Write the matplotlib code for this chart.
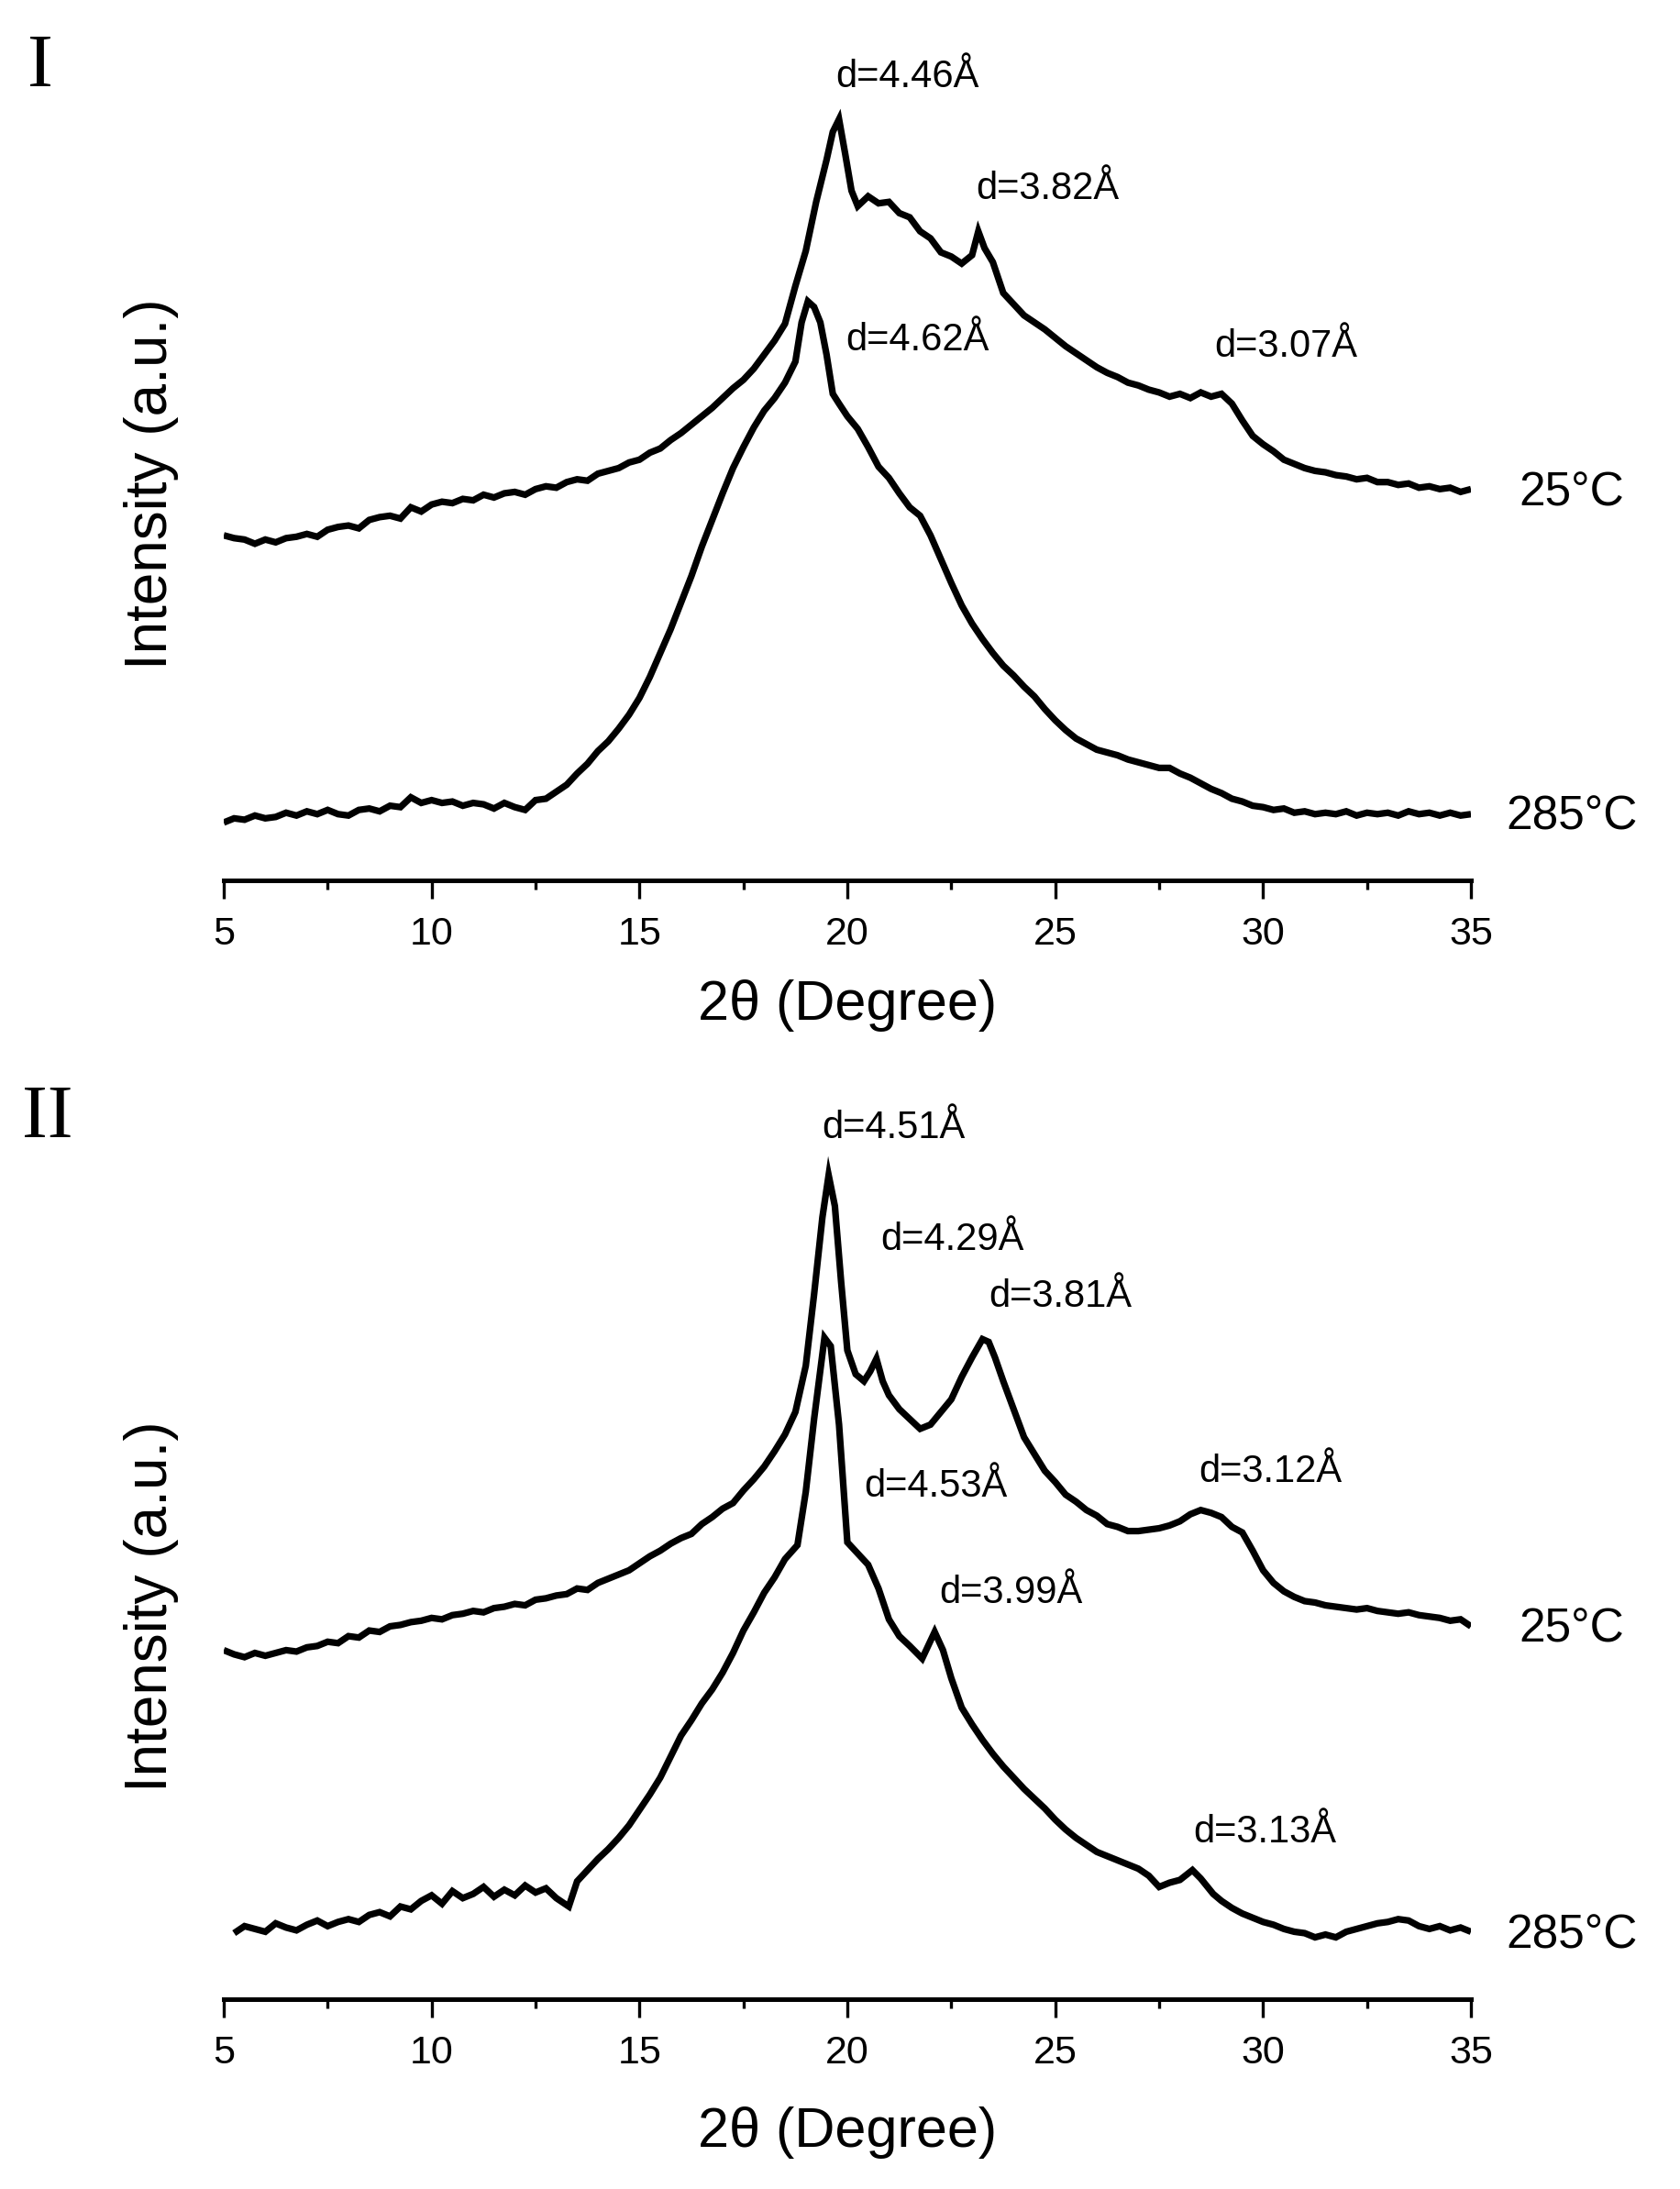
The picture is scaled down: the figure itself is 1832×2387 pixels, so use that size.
import numpy as np
import matplotlib
matplotlib.use("Agg")
import matplotlib.pyplot as plt
from matplotlib.ticker import MultipleLocator

plt.rcParams['font.family'] = ['Liberation Sans', 'DejaVu Sans']

# ---------------- Data (arbitrary intensity units) ----------------
# Panel I, 25 C
x_I_25 = [5.00, 5.25, 5.50, 5.75, 6.00, 6.25, 6.50, 6.75, 7.00, 7.25, 7.50, 7.75, 8.00, 8.25, 8.50, 8.75,
          9.00, 9.25, 9.50, 9.75, 10.00, 10.25, 10.50, 10.75, 11.00, 11.25, 11.50, 11.75, 12.00, 12.25,
          12.50, 12.75, 13.00, 13.25, 13.50, 13.75, 14.00, 14.25, 14.50, 14.75, 15.00, 15.25, 15.50,
          15.75, 16.00, 16.25, 16.50, 16.75, 17.00, 17.25, 17.50, 17.75, 18.00, 18.25, 18.50, 18.75,
          19.00, 19.25, 19.50, 19.65, 19.80, 19.95, 20.10, 20.25, 20.50, 20.75, 21.00, 21.25, 21.50,
          21.75, 22.00, 22.25, 22.50, 22.75, 23.00, 23.15, 23.30, 23.50, 23.75, 24.00, 24.25, 24.50,
          24.75, 25.00, 25.25, 25.50, 25.75, 26.00, 26.25, 26.50, 26.75, 27.00, 27.25, 27.50, 27.75,
          28.00, 28.25, 28.50, 28.75, 29.00, 29.25, 29.50, 29.75, 30.00, 30.25, 30.50, 30.75, 31.00,
          31.25, 31.50, 31.75, 32.00, 32.25, 32.50, 32.75, 33.00, 33.25, 33.50, 33.75, 34.00, 34.25,
          34.50, 34.75, 35.00]
y_I_25 = [246, 244, 243, 240, 243, 241, 244, 245, 247, 245, 250, 252, 253, 251, 257, 259,
          260, 258, 266, 263, 268, 270, 269, 272, 271, 275, 273, 276, 277, 275,
          279, 281, 280, 284, 286, 285, 290, 292, 294, 298, 300, 305, 308,
          314, 319, 325, 331, 337, 344, 351, 357, 365, 375, 385, 397, 424,
          449, 484, 514, 534, 543, 518, 492, 481, 488, 483, 484, 476, 473,
          463, 458, 448, 445, 440, 446, 463, 451, 441, 419, 411, 403, 398,
          393, 387, 381, 376, 371, 366, 362, 359, 355, 353, 350, 348, 345,
          347, 344, 348, 345, 347, 340, 328, 317, 311, 306, 300, 297, 294,
          292, 291, 289, 288, 286, 287, 284, 284, 282, 283, 280, 281, 279,
          280, 277, 279]

# Panel I, 285 C
x_I_285 = [5.00, 5.25, 5.50, 5.75, 6.00, 6.25, 6.50, 6.75, 7.00, 7.25, 7.50, 7.75, 8.00, 8.25, 8.50, 8.75,
           9.00, 9.25, 9.50, 9.75, 10.00, 10.25, 10.50, 10.75, 11.00, 11.25, 11.50, 11.75, 12.00, 12.25,
           12.50, 12.75, 13.00, 13.25, 13.50, 13.75, 14.00, 14.25, 14.50, 14.75, 15.00, 15.25, 15.50,
           15.75, 16.00, 16.25, 16.50, 16.75, 17.00, 17.25, 17.50, 17.75, 18.00, 18.25, 18.50, 18.75,
           18.90, 19.05, 19.20, 19.35, 19.50, 19.65, 19.80, 20.00, 20.25, 20.50, 20.75, 21.00, 21.25,
           21.50, 21.75, 22.00, 22.25, 22.50, 22.75, 23.00, 23.25, 23.50, 23.75, 24.00, 24.25, 24.50,
           24.75, 25.00, 25.25, 25.50, 25.75, 26.00, 26.25, 26.50, 26.75, 27.00, 27.25, 27.50, 27.75,
           28.00, 28.25, 28.50, 28.75, 29.00, 29.25, 29.50, 29.75, 30.00, 30.25, 30.50, 30.75, 31.00,
           31.25, 31.50, 31.75, 32.00, 32.25, 32.50, 32.75, 33.00, 33.25, 33.50, 33.75, 34.00, 34.25,
           34.50, 34.75, 35.00]
y_I_285 = [41, 44, 43, 46, 44, 45, 48, 46, 49, 47, 50, 47, 46, 50, 51, 49,
           53, 52, 59, 55, 57, 55, 56, 53, 55, 54, 51, 55, 52, 50,
           57, 58, 63, 68, 76, 83, 92, 99, 108, 118, 130, 145, 162,
           179, 198, 217, 238, 257, 276, 294, 309, 323, 335, 344, 355, 370,
           398, 413, 409, 398, 375, 347, 340, 331, 322, 309, 295, 287, 276,
           266, 260, 246, 229, 212, 196, 183, 172, 162, 153, 146, 138, 131,
           122, 114, 107, 101, 97, 93, 91, 89, 86, 84, 82, 80, 80,
           76, 73, 69, 65, 62, 58, 56, 53, 52, 50, 51, 48, 49,
           47, 48, 47, 49, 46, 48, 47, 48, 46, 49, 47, 48, 46,
           48, 46, 47]

# Panel II, 25 C
x_II_25 = [5.00, 5.25, 5.50, 5.75, 6.00, 6.25, 6.50, 6.75, 7.00, 7.25, 7.50, 7.75, 8.00, 8.25, 8.50, 8.75,
           9.00, 9.25, 9.50, 9.75, 10.00, 10.25, 10.50, 10.75, 11.00, 11.25, 11.50, 11.75, 12.00, 12.25,
           12.50, 12.75, 13.00, 13.25, 13.50, 13.75, 14.00, 14.25, 14.50, 14.75, 15.00, 15.25, 15.50,
           15.75, 16.00, 16.25, 16.50, 16.75, 17.00, 17.25, 17.50, 17.75, 18.00, 18.25, 18.50, 18.75,
           19.00, 19.20, 19.40, 19.55, 19.70, 19.85, 20.00, 20.20, 20.40, 20.55, 20.70, 20.85, 21.00,
           21.25, 21.50, 21.75, 22.00, 22.25, 22.50, 22.75, 23.00, 23.25, 23.40, 23.55, 23.75, 24.00,
           24.25, 24.50, 24.75, 25.00, 25.25, 25.50, 25.75, 26.00, 26.25, 26.50, 26.75, 27.00, 27.25,
           27.50, 27.75, 28.00, 28.25, 28.50, 28.75, 29.00, 29.25, 29.50, 29.75, 30.00, 30.25, 30.50,
           30.75, 31.00, 31.25, 31.50, 31.75, 32.00, 32.25, 32.50, 32.75, 33.00, 33.25, 33.50, 33.75,
           34.00, 34.25, 34.50, 34.75, 35.00]
y_II_25 = [249, 246, 244, 247, 245, 247, 249, 248, 251, 252, 255, 254, 259, 258, 263, 262,
           266, 267, 269, 270, 272, 271, 274, 275, 277, 276, 279, 280, 282, 281,
           285, 286, 288, 289, 293, 292, 297, 300, 303, 306, 311, 316, 320,
           325, 329, 332, 339, 344, 350, 354, 363, 371, 380, 391, 403, 419,
           452, 503, 558, 588, 566, 512, 463, 446, 441, 448, 457, 441, 431,
           421, 414, 407, 410, 419, 428, 444, 458, 471, 469, 458, 441, 421,
           401, 389, 377, 369, 360, 355, 349, 345, 339, 337, 334, 334, 335,
           336, 338, 341, 346, 349, 347, 344, 337, 333, 320, 306, 297, 291,
           287, 284, 283, 281, 280, 279, 278, 279, 277, 276, 275, 276, 274,
           273, 272, 270, 271, 266]

# Panel II, 285 C
x_II_285 = [5.25, 5.50, 5.75, 6.00, 6.25, 6.50, 6.75, 7.00, 7.25, 7.50, 7.75, 8.00, 8.25, 8.50, 8.75,
            9.00, 9.25, 9.50, 9.75, 10.00, 10.25, 10.50, 10.75, 11.00, 11.25, 11.50, 11.75, 12.00, 12.25,
            12.50, 12.75, 13.00, 13.30, 13.50, 13.75, 14.00, 14.25, 14.50, 14.75, 15.00, 15.25, 15.50,
            15.80, 16.00, 16.25, 16.50, 16.75, 17.00, 17.25, 17.50, 17.75, 18.00, 18.25, 18.50, 18.80,
            19.00, 19.20, 19.45, 19.60, 19.80, 20.00, 20.25, 20.50, 20.75, 21.00, 21.25, 21.50, 21.80,
            22.10, 22.30, 22.50, 22.75, 23.00, 23.25, 23.50, 23.75, 24.00, 24.25, 24.50, 24.75, 25.00,
            25.25, 25.50, 25.75, 26.00, 26.25, 26.50, 26.75, 27.00, 27.25, 27.50, 27.75, 28.00, 28.30,
            28.50, 28.80, 29.00, 29.25, 29.50, 29.75, 30.00, 30.25, 30.50, 30.75, 31.00, 31.25, 31.50,
            31.75, 32.00, 32.25, 32.50, 32.75, 33.00, 33.25, 33.50, 33.75, 34.00, 34.25, 34.50, 34.75,
            35.00]
y_II_285 = [47, 52, 50, 48, 54, 51, 49, 53, 56, 52, 55, 57, 55, 60, 62,
            59, 66, 64, 70, 74, 68, 77, 72, 75, 80, 73, 78, 74, 81,
            76, 79, 72, 66, 84, 92, 100, 107, 115, 124, 135, 146, 158,
            176, 188, 199, 211, 221, 233, 247, 263, 276, 290, 301, 314, 324,
            362, 414, 472, 466, 410, 326, 318, 310, 293, 271, 259, 252, 243,
            262, 249, 229, 208, 196, 185, 175, 166, 158, 150, 143, 136, 128,
            121, 115, 110, 105, 102, 99, 96, 93, 88, 80, 83, 85, 92,
            86, 75, 70, 65, 61, 58, 55, 53, 50, 48, 47, 44, 46,
            44, 48, 50, 52, 54, 55, 57, 56, 52, 50, 52, 49, 51,
            48]

tick_major = [5, 10, 15, 20, 25, 30, 35]

panel_I_labels = ["d=4.46Å", "d=3.82Å", "d=4.62Å", "d=3.07Å"]
panel_II_labels = ["d=4.51Å", "d=4.29Å", "d=3.81Å", "d=3.12Å", "d=4.53Å", "d=3.99Å", "d=3.13Å"]
temps = ["25°C", "285°C"]

# ---------------- positions (layout only) ----------------
pos_I = [(21.45, 573), (24.82, 493), (21.68, 385), (30.55, 381)]
pos_II = [(21.11, 622), (22.53, 542), (25.12, 501), (30.18, 376), (22.12, 366), (23.94, 290), (30.04, 119)]
temp_pos_I = [(37.42, 276), (37.42, 45)]
temp_pos_II = [(37.42, 264), (37.42, 45)]

fig = plt.figure(figsize=(18.33, 23.87), dpi=100)
ax1 = fig.add_axes([0.1331, 0.598, 0.742, 0.384])
ax2 = fig.add_axes([0.1331, 0.0868, 0.742, 0.416])


def style(ax, ymax):
    ax.set_xlim(5, 35)
    ax.set_ylim(0, ymax)
    for s in ['left', 'right', 'top']:
        ax.spines[s].set_visible(False)
    ax.spines['bottom'].set_linewidth(3.6)
    ax.set_yticks([])
    ax.set_xticks(tick_major)
    ax.xaxis.set_minor_locator(MultipleLocator(2.5))
    ax.tick_params(axis='x', which='major', direction='out', length=14.5, width=2.4,
                   labelsize=31, pad=14)
    ax.tick_params(axis='x', which='minor', direction='out', length=7, width=2.4)
    ax.patch.set_alpha(0)


lw = 5.2
for ax, xs, ys in [(ax1, x_I_25, y_I_25), (ax1, x_I_285, y_I_285),
                   (ax2, x_II_25, y_II_25), (ax2, x_II_285, y_II_285)]:
    ax.plot(xs, ys, color='black', lw=lw, solid_joinstyle='miter', solid_capstyle='butt')

style(ax1, 600)
style(ax2, 650)

for lab, (px, py) in zip(panel_I_labels, pos_I):
    ax1.text(px, py, lab, fontsize=30, ha='center', va='center')
for lab, (px, py) in zip(panel_II_labels, pos_II):
    ax2.text(px, py, lab, fontsize=30, ha='center', va='center')
for lab, (px, py) in zip(temps, temp_pos_I):
    ax1.text(px, py, lab, fontsize=37, ha='center', va='center', clip_on=False)
for lab, (px, py) in zip(temps, temp_pos_II):
    ax2.text(px, py, lab, fontsize=37, ha='center', va='center', clip_on=False)

for ax, ylab_y in [(ax1, 0.471), (ax2, 0.431)]:
    ax.set_xlabel("2θ (Degree)", fontsize=44)
    ax.xaxis.set_label_coords(0.5, -0.118)
    ax.text(-0.058, ylab_y, "Intensity (a.u.)", fontsize=46, rotation=90,
            ha='center', va='center', transform=ax.transAxes)

fig.text(0.024, 0.969, "I", fontsize=60, family='Liberation Serif', ha='center', va='center')
fig.text(0.028, 0.489, "II", fontsize=60, family='Liberation Serif', ha='center', va='center')

fig.savefig("out.png", dpi=100, facecolor='white')
